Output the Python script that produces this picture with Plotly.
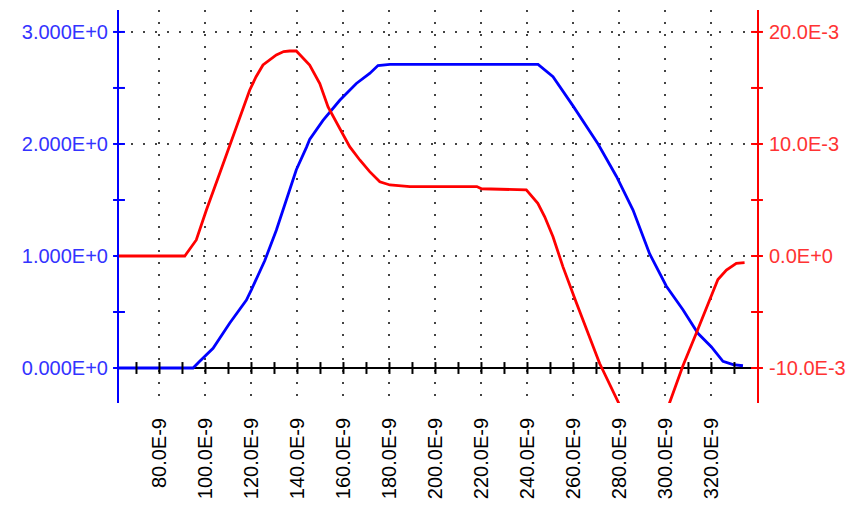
import plotly.graph_objects as go

# ---- data (time in ns, blue in V, red in 1e-3 units) ----
t_blue = [62.4, 94.6, 97.5, 103.3, 110.5, 117.8, 120.0, 125.8, 130.8, 135.2, 139.5, 143.9,
          145.3, 151.1, 158.4, 165.6, 171.4, 175.0, 180.2, 239.5, 244.6, 251.1, 259.8,
          270.7, 278.7, 285.9, 293.1, 300.4, 307.6, 314.1, 319.9, 325.0, 329.4, 333.7]
v_blue = [0, 0, 0.06, 0.176, 0.40, 0.607, 0.70, 0.96, 1.23, 1.50, 1.77, 1.97,
          2.04, 2.21, 2.39, 2.54, 2.63, 2.70, 2.71, 2.71, 2.71, 2.60, 2.34,
          2.0, 1.71, 1.41, 1.02, 0.73, 0.52, 0.31, 0.19, 0.06, 0.03, 0.02]

t_red = [62.4, 91.0, 96.0, 100.4, 106.2, 112.0, 116.3, 119.2, 122.0, 125.0, 130.8, 134.0,
         136.6, 139.5, 145.3, 149.7, 153.3, 158.4, 162.7, 167.1, 171.4, 175.8, 180.2,
         188.9, 218.0, 220.0, 239.5, 244.5, 247.5, 251.1, 255.4, 261.3, 267.0, 271.4,
         279.6, 286.0, 291.0, 296.0, 301.8, 307.6, 313.4, 319.2, 322.8, 326.5, 330.8, 334.4]
v_red = [0, 0, 1.43, 4.1, 7.38, 10.65, 13.0, 14.8, 16.0, 17.05, 17.95, 18.25,
         18.3, 18.3, 17.05, 15.4, 13.3, 11.4, 9.76, 8.57, 7.53, 6.63, 6.34,
         6.19, 6.2, 6.0, 5.9, 4.7, 3.5, 1.72, -0.95, -4.2, -7.2, -9.6,
         -13.1, -16.5, -18.0, -16.5, -13.1, -9.8, -6.9, -3.9, -2.1, -1.25, -0.65, -0.6]

# ---- ticks ----
x_ticks = [80, 100, 120, 140, 160, 180, 200, 220, 240, 260, 280, 300, 320]
x_ticktext = [f"{v:.1f}E-9" for v in x_ticks]
x_minor = list(range(70, 340, 10))
y1_ticks = [0, 1, 2, 3]
y1_ticktext = ["0.000E+0", "1.000E+0", "2.000E+0", "3.000E+0"]
y1_minor = [0, 0.5, 1, 1.5, 2, 2.5, 3]
y2_ticks = [-10, 0, 10, 20]
y2_ticktext = ["-10.0E-3", "0.0E+0", "10.0E-3", "20.0E-3"]
y2_minor = [-10, -5, 0, 5, 10, 15, 20]

x_range = [62.4, 339.8]
y1_range = [-0.3125, 3.196]
y2_range = [-13.125, 21.96]

BLUE = "#0000ff"
RED = "#ff0000"
FONT = "Liberation Sans"
FS = 20

fig = go.Figure()

fig.add_trace(go.Scatter(x=t_red, y=v_red, mode="lines", yaxis="y2",
                         line=dict(color=RED, width=2.8), hoverinfo="skip"))
fig.add_trace(go.Scatter(x=t_blue, y=v_blue, mode="lines", yaxis="y",
                         line=dict(color=BLUE, width=2.8), hoverinfo="skip"))

# crossing tick marks on the zero line and on both y axes
fig.add_trace(go.Scatter(x=x_minor, y=[0] * len(x_minor), mode="markers", yaxis="y",
                         marker=dict(symbol="line-ns", size=8.5,
                                     line=dict(color="black", width=2)),
                         cliponaxis=False, hoverinfo="skip"))
fig.add_trace(go.Scatter(x=[x_range[0]] * len(y1_minor), y=y1_minor, mode="markers", yaxis="y",
                         marker=dict(symbol="line-ew", size=8.5,
                                     line=dict(color=BLUE, width=2)),
                         cliponaxis=False, hoverinfo="skip"))
fig.add_trace(go.Scatter(x=[x_range[1]] * len(y2_minor), y=y2_minor, mode="markers", yaxis="y2",
                         marker=dict(symbol="line-ew", size=8.5,
                                     line=dict(color=RED, width=2)),
                         cliponaxis=False, hoverinfo="skip"))

grid = dict(showgrid=True, gridcolor="#444444", gridwidth=2, griddash="2px,10px")

fig.update_layout(
    width=852, height=497,
    margin=dict(l=111, r=103, t=2, b=102),
    paper_bgcolor="white", plot_bgcolor="white",
    showlegend=False,
    font=dict(family=FONT, size=FS),
    xaxis=dict(range=x_range, tickvals=x_ticks, ticktext=x_ticktext, tickangle=-90,
               tickfont=dict(color="black", size=FS, family=FONT), ticks="",
               ticklabelstandoff=10,
               showline=False, zeroline=False, **grid),
    yaxis=dict(range=y1_range, tickvals=y1_ticks, ticktext=y1_ticktext,
               tickfont=dict(color="#3333ff", size=FS, family=FONT), ticks="",
               ticklabelstandoff=5,
               showline=True, linecolor=BLUE, linewidth=2,
               zeroline=True, zerolinecolor="black", zerolinewidth=2, **grid),
    yaxis2=dict(range=y2_range, tickvals=y2_ticks, ticktext=y2_ticktext,
                overlaying="y", side="right", anchor="x",
                tickfont=dict(color="#ff3333", size=FS, family=FONT), ticks="",
                ticklabelstandoff=6,
                showline=True, linecolor=RED, linewidth=2,
                showgrid=False, zeroline=False),
)

fig.write_html("out.html")
